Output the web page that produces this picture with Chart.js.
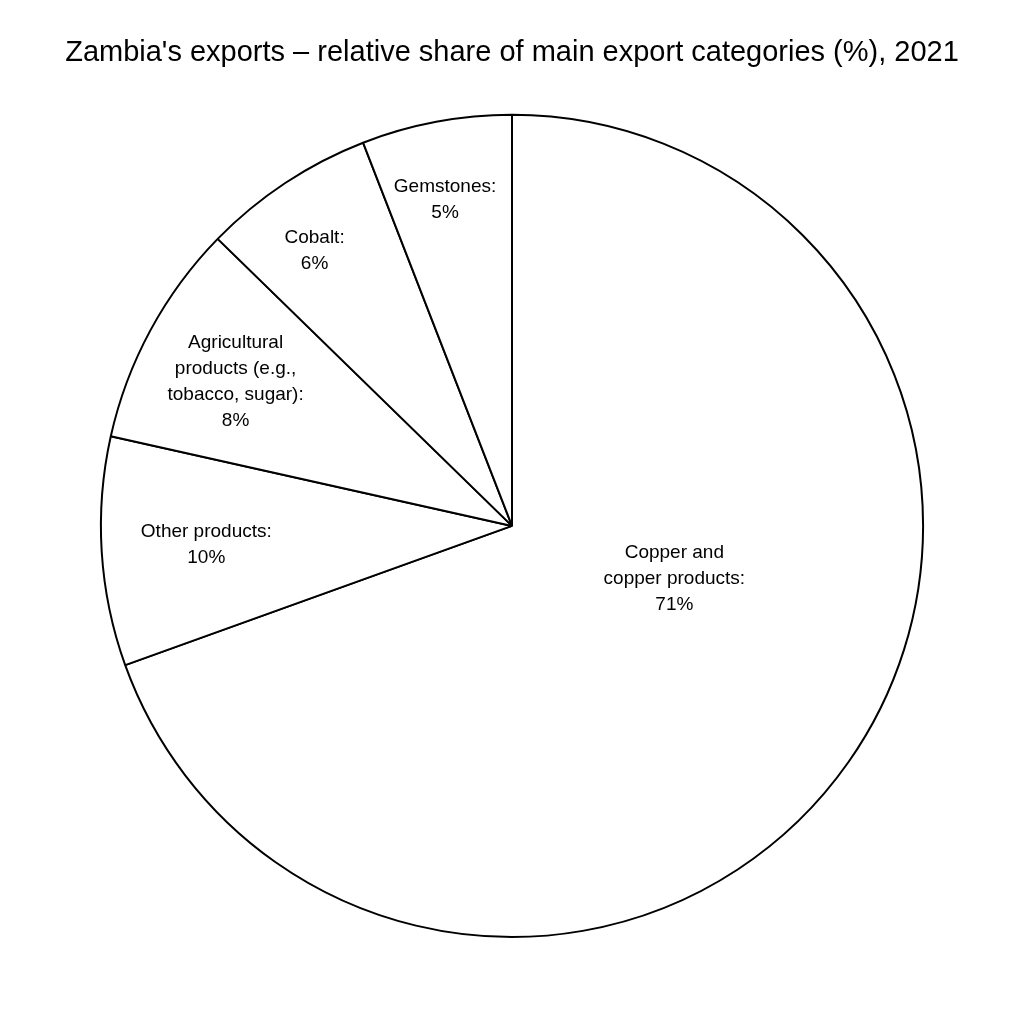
<!DOCTYPE html>
<html><head><meta charset="utf-8">
<script src="https://cdn.jsdelivr.net/npm/chart.js@4/dist/chart.umd.min.js"></script>
<style>html,body{margin:0;background:#fff}#wrap{width:1024px;height:1024px}</style>
</head><body><div id="wrap"><canvas id="c"></canvas></div>
<script>
const categories = [["Copper and","copper products:"],["Other products:"],["Agricultural","products (e.g.,","tobacco, sugar):"],["Cobalt:"],["Gemstones:"]];
const labelledShares = [71, 10, 8, 6, 5];
const drawnShares = [69.5, 9, 8.8, 6.8, 5.9];
const labelPos = [[17.9,0.415],[176.5,0.745],[207.5,0.758],[234.3,0.823],[258.4,0.81]];
const labelPlugin = {
  id:'sliceLabels',
  afterDatasetsDraw(chart){
    const ctx = chart.ctx, meta = chart.getDatasetMeta(0);
    ctx.save();
    ctx.fillStyle = '#000'; ctx.font = '19px "Liberation Sans", Arial, sans-serif';
    ctx.textAlign = 'center'; ctx.textBaseline = 'middle';
    meta.data.forEach((arc,i)=>{
      const a = labelPos[i][0]*Math.PI/180, r = arc.outerRadius*labelPos[i][1];
      const x = arc.x + Math.cos(a)*r, y = arc.y + Math.sin(a)*r;
      const lines = categories[i].concat([labelledShares[i]+'%']);
      const lh = 26, y0 = y - (lines.length-1)*lh/2;
      lines.forEach((l,j)=>ctx.fillText(l,x,y0+j*lh));
    });
    ctx.restore();
  }
};
new Chart(document.getElementById('c'),{
  type:'pie',
  data:{labels:categories.map(c=>c.join(' ')),datasets:[{data:drawnShares,backgroundColor:'#fff',borderColor:'#000',borderWidth:2}]},
  options:{responsive:true,maintainAspectRatio:false,animation:false,
    layout:{padding:{bottom:86}},
    plugins:{legend:{display:false},tooltip:{enabled:false},
      title:{display:true,text:"Zambia's exports – relative share of main export categories (%), 2021",
        color:'#000',font:{size:29,weight:'normal',family:'"Liberation Sans", Arial, sans-serif'},padding:{top:36,bottom:43}}}},
  plugins:[labelPlugin]
});
</script></body></html>
